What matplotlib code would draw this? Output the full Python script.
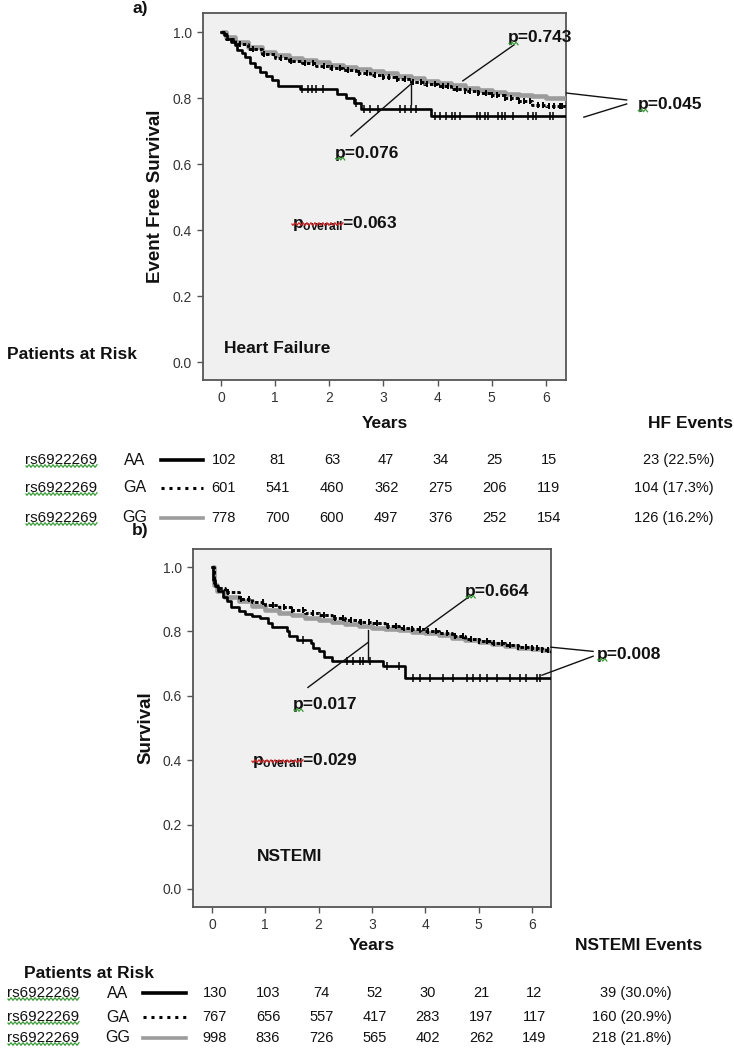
import numpy as np
import matplotlib
matplotlib.use('Agg')
import matplotlib.pyplot as plt
from matplotlib.lines import Line2D
from matplotlib import transforms

plt.rcParams['font.family'] = ['Liberation Sans', 'DejaVu Sans']
plt.rcParams['mathtext.fontset'] = 'custom'
plt.rcParams['mathtext.rm'] = 'Liberation Sans'
plt.rcParams['mathtext.bf'] = 'Liberation Sans:bold'
plt.rcParams['mathtext.it'] = 'Liberation Sans:italic'

# ---------------- data ----------------
year_ticks = [0, 1, 2, 3, 4, 5, 6]
surv_ticks = [0.0, 0.2, 0.4, 0.6, 0.8, 1.0]
snp = 'rs6922269'
genotypes = ['AA', 'GA', 'GG']

# Heart failure panel (a)
hf_aa_t = [0, 0.06, 0.12, 0.18, 0.25, 0.3, 0.38, 0.45, 0.53, 0.62, 0.72, 0.84, 0.95, 1.05, 1.45, 2.15, 2.3, 2.45, 2.58, 3.88, 6.37]
hf_aa_s = [1.0, 0.99, 0.98, 0.97, 0.96, 0.945, 0.935, 0.925, 0.905, 0.895, 0.88, 0.868, 0.855, 0.836, 0.826, 0.812, 0.80, 0.785, 0.766, 0.745, 0.745]
hf_aa_cens = [1.5, 1.6, 1.68, 1.75, 1.88, 2.5, 2.64, 2.75, 2.9, 3.3, 3.4, 3.5, 3.6, 3.95, 4.05, 4.15, 4.26, 4.32, 4.41,
              4.72, 4.78, 4.87, 4.93, 5.12, 5.18, 5.24, 5.40, 5.67, 5.76, 5.82, 6.07, 6.13]
hf_ga_t = [0, 0.1, 0.25, 0.5, 0.75, 1.0, 1.25, 1.5, 1.75, 2.0, 2.25, 2.5, 2.75, 3.0, 3.25, 3.5, 3.75, 4.0, 4.25, 4.5, 4.75, 5.0, 5.25, 5.5, 5.75, 6.0, 6.37]
hf_ga_s = [1.0, 0.98, 0.965, 0.948, 0.934, 0.922, 0.912, 0.905, 0.898, 0.89, 0.884, 0.877, 0.87, 0.864, 0.858, 0.85, 0.843, 0.835, 0.828, 0.822, 0.815, 0.808, 0.80, 0.79, 0.78, 0.775, 0.772]
hf_ga_cens = [0.35, 0.6, 0.8, 1.1, 1.3, 1.55, 1.7, 1.9, 2.05, 2.2, 2.35, 2.55, 2.7, 2.85, 3.0, 3.1, 3.25, 3.4, 3.55, 3.7,
              3.8, 3.95, 4.1, 4.2, 4.35, 4.5, 4.6, 4.75, 4.9, 5.0, 5.1, 5.25, 5.35, 5.5, 5.6, 5.7, 5.85, 5.95, 6.05, 6.15, 6.25, 6.3]
hf_gg_t = [0, 0.1, 0.25, 0.5, 0.75, 1.0, 1.25, 1.5, 1.75, 2.0, 2.25, 2.5, 2.75, 3.0, 3.25, 3.5, 3.75, 4.0, 4.25, 4.5, 4.75, 5.0, 5.25, 5.5, 5.75, 6.0, 6.37]
hf_gg_s = [1.0, 0.985, 0.97, 0.955, 0.94, 0.93, 0.922, 0.915, 0.908, 0.90, 0.894, 0.888, 0.882, 0.876, 0.868, 0.86, 0.853, 0.846, 0.838, 0.83, 0.824, 0.818, 0.813, 0.81, 0.806, 0.80, 0.795]
hf_risk = [[102, 81, 63, 47, 34, 25, 15],
           [601, 541, 460, 362, 275, 206, 119],
           [778, 700, 600, 497, 376, 252, 154]]
hf_events = ['23 (22.5%)', '104 (17.3%)', '126 (16.2%)']
hf_pvals = ['p=0.743', 'p=0.045', 'p=0.076']
hf_p_overall = '0.063'

# NSTEMI panel (b)
ns_aa_t = [0, 0.02, 0.06, 0.12, 0.2, 0.28, 0.36, 0.5, 0.62, 0.75, 0.9, 1.05, 1.12, 1.4, 1.45, 1.6, 1.85, 1.9, 2.0, 2.1, 2.25, 3.2, 3.62, 6.36]
ns_aa_s = [1.0, 0.96, 0.94, 0.925, 0.908, 0.893, 0.877, 0.862, 0.855, 0.848, 0.841, 0.826, 0.815, 0.80, 0.787, 0.774, 0.764, 0.75, 0.738, 0.72, 0.708, 0.692, 0.656, 0.656]
ns_aa_cens = [1.7, 2.53, 2.65, 2.78, 2.84, 2.96, 3.28, 3.5, 3.78, 3.9, 4.09, 4.34, 4.53, 4.78, 4.9, 5.03, 5.15, 5.34, 5.59, 5.78, 5.9, 6.09, 6.15]
ns_ga_t = [0, 0.03, 0.1, 0.25, 0.5, 0.75, 1.0, 1.25, 1.5, 1.75, 2.0, 2.25, 2.5, 2.75, 3.0, 3.25, 3.5, 3.75, 4.0, 4.25, 4.5, 4.75, 5.0, 5.25, 5.5, 5.75, 6.0, 6.2, 6.36]
ns_ga_s = [1.0, 0.95, 0.935, 0.922, 0.902, 0.892, 0.883, 0.875, 0.866, 0.857, 0.85, 0.843, 0.836, 0.83, 0.825, 0.818, 0.812, 0.807, 0.802, 0.795, 0.786, 0.778, 0.77, 0.764, 0.758, 0.752, 0.748, 0.742, 0.73]
ns_ga_cens = [0.3, 0.55, 0.7, 0.95, 1.15, 1.35, 1.5, 1.7, 1.9, 2.1, 2.3, 2.45, 2.6, 2.8, 2.95, 3.1, 3.3, 3.45, 3.6, 3.75,
              3.9, 4.05, 4.2, 4.4, 4.55, 4.7, 4.85, 5.0, 5.15, 5.3, 5.45, 5.6, 5.75, 5.9, 6.0, 6.1, 6.2, 6.3]
ns_gg_t = [0, 0.03, 0.1, 0.25, 0.5, 0.75, 1.0, 1.25, 1.5, 1.75, 2.0, 2.25, 2.5, 2.75, 3.0, 3.25, 3.5, 3.75, 4.0, 4.25, 4.5, 4.75, 5.0, 5.25, 5.5, 5.75, 6.0, 6.2, 6.36]
ns_gg_s = [1.0, 0.945, 0.925, 0.908, 0.893, 0.88, 0.868, 0.858, 0.85, 0.842, 0.835, 0.829, 0.823, 0.817, 0.812, 0.807, 0.803, 0.799, 0.795, 0.788, 0.781, 0.773, 0.766, 0.76, 0.754, 0.749, 0.745, 0.741, 0.735]
ns_risk = [[130, 103, 74, 52, 30, 21, 12],
           [767, 656, 557, 417, 283, 197, 117],
           [998, 836, 726, 565, 402, 262, 149]]
ns_events = ['39 (30.0%)', '160 (20.9%)', '218 (21.8%)']
ns_pvals = ['p=0.664', 'p=0.008', 'p=0.017']
ns_p_overall = '0.029'

# ---------------- figure ----------------
W, H = 734, 1054
fig = plt.figure(figsize=(W / 100, H / 100), dpi=100)


def fx(px):
    return px / W


def fy(py):
    return 1 - py / H


BG = '#f0f0f0'
GRAY = '#9c9c9c'
SPINE = '#555555'
TXT = '#111111'
BOLD = 12.5


def step_val(t, s, c):
    idx = np.searchsorted(np.asarray(t), np.asarray(c), side='right') - 1
    return np.asarray(s)[idx]


def make_axes(rect, xlim, ylim, ylabel):
    ax = fig.add_axes(rect)
    ax.set_facecolor(BG)
    ax.set_xlim(*xlim)
    ax.set_ylim(*ylim)
    ax.set_xticks(year_ticks)
    ax.set_yticks(surv_ticks)
    ax.set_yticklabels([f'{v:.1f}' for v in surv_ticks])
    for sp in ax.spines.values():
        sp.set_color(SPINE)
        sp.set_linewidth(1.3)
    ax.tick_params(direction='out', length=4.5, width=1, colors='#555555', labelsize=10,
                   labelcolor='#333333', pad=3.5)
    ax.set_ylabel(ylabel, fontsize=13.5, fontweight='bold', color=TXT, labelpad=6)
    return ax


def draw_curves(ax, aa, ga, gg):
    (gg_t, gg_s) = gg
    ax.step(gg_t, gg_s, where='post', color=GRAY, lw=3.3, zorder=3, solid_capstyle='butt')
    (ga_t, ga_s, ga_c) = ga
    ax.step(ga_t, ga_s, where='post', color='black', lw=2.1, ls=(0, (1.2, 0.7)), zorder=4)
    ax.plot(ga_c, step_val(ga_t, ga_s, ga_c), ls='none', marker='|', ms=5, mew=1.4, color='black', zorder=4)
    (aa_t, aa_s, aa_c) = aa
    ax.step(aa_t, aa_s, where='post', color='black', lw=1.9, zorder=5)
    ax.plot(aa_c, step_val(aa_t, aa_s, aa_c), ls='none', marker='|', ms=6, mew=1.1, color='black', zorder=5)


def ann_line(ax, xs, ys):
    ax.add_line(Line2D(xs, ys, color='#111111', lw=1.0, clip_on=False, zorder=6))


# ---- panel a ----
axa = make_axes([fx(203), fy(380), fx(566) - fx(203), fy(13) - fy(380)],
                (-0.332, 6.37), (-0.0545, 1.0576), 'Event Free Survival')
draw_curves(axa, (hf_aa_t, hf_aa_s, hf_aa_cens), (hf_ga_t, hf_ga_s, hf_ga_cens), (hf_gg_t, hf_gg_s))

ptexts = []
t = axa.text(5.30, 0.982, hf_pvals[0], fontsize=BOLD, fontweight='bold', color=TXT, va='center', ha='left')
ptexts.append(t)
ann_line(axa, [5.41, 4.465], [0.961, 0.852])
t = axa.text(7.69, 0.779, hf_pvals[1], fontsize=BOLD, fontweight='bold', color=TXT, va='center', ha='left', clip_on=False)
ptexts.append(t)
ann_line(axa, [7.49, 6.38], [0.794, 0.815])
ann_line(axa, [7.49, 6.70], [0.782, 0.742])
t = axa.text(2.10, 0.633, hf_pvals[2], fontsize=BOLD, fontweight='bold', color=TXT, va='center', ha='left')
ptexts.append(t)
ann_line(axa, [2.40, 3.505], [0.685, 0.842])
ann_line(axa, [3.505, 3.505], [0.842, 0.782])
povs = []
t = axa.text(1.31, 0.421, r'$\mathbf{p}_{\mathbf{overall}}$' + '=' + hf_p_overall, fontsize=BOLD,
             fontweight='bold', color=TXT, va='center', ha='left')
povs.append(t)
axa.text(0.055, 0.04, 'Heart Failure', fontsize=BOLD, fontweight='bold', color=TXT, va='center', ha='left')

# ---- panel b ----
axb = make_axes([fx(193), fy(907), fx(551) - fx(193), fy(549) - fy(907)],
                (-0.356, 6.36), (-0.056, 1.056), 'Survival')
draw_curves(axb, (ns_aa_t, ns_aa_s, ns_aa_cens), (ns_ga_t, ns_ga_s, ns_ga_cens), (ns_gg_t, ns_gg_s))

t = axb.text(4.75, 0.925, ns_pvals[0], fontsize=BOLD, fontweight='bold', color=TXT, va='center', ha='left')
ptexts.append(t)
ann_line(axb, [4.84, 3.90], [0.91, 0.797])
t = axb.text(7.22, 0.729, ns_pvals[1], fontsize=BOLD, fontweight='bold', color=TXT, va='center', ha='left', clip_on=False)
ptexts.append(t)
ann_line(axb, [7.15, 6.36], [0.738, 0.751])
ann_line(axb, [7.15, 6.19], [0.723, 0.664])
t = axb.text(1.52, 0.573, ns_pvals[2], fontsize=BOLD, fontweight='bold', color=TXT, va='center', ha='left')
ptexts.append(t)
ann_line(axb, [1.80, 2.93], [0.626, 0.766])
ann_line(axb, [2.93, 2.93], [0.804, 0.704])
t = axb.text(0.75, 0.40, r'$\mathbf{p}_{\mathbf{overall}}$' + '=' + ns_p_overall, fontsize=BOLD,
             fontweight='bold', color=TXT, va='center', ha='left')
povs.append(t)
axb.text(0.84, 0.10, 'NSTEMI', fontsize=BOLD, fontweight='bold', color=TXT, va='center', ha='left')

# panel letters
fig.text(fx(140), fy(9), 'a)', fontsize=BOLD, fontweight='bold', color=TXT, ha='center', va='center')
fig.text(fx(140), fy(531), 'b)', fontsize=BOLD, fontweight='bold', color=TXT, ha='center', va='center')

# ---- risk tables ----
snp_texts = []


def risk_table(ax, years_y, events_title, events_x, row_ys, snp_x, gt_x, line_x, risk, events,
               events_right, par_x, par_y):
    cx = (ax.get_position().x0 + ax.get_position().x1) / 2
    fig.text(cx, fy(years_y), 'Years', fontsize=BOLD, fontweight='bold', color=TXT, ha='center', va='center')
    fig.text(fx(events_x), fy(years_y), events_title, fontsize=BOLD, fontweight='bold', color=TXT,
             ha='center', va='center')
    fig.text(fx(par_x), fy(par_y), 'Patients at Risk', fontsize=BOLD, fontweight='bold', color=TXT,
             ha='left', va='center')
    tr = transforms.blended_transform_factory(ax.transData, fig.transFigure)
    styles = [dict(color='black', lw=2.6, ls='-'),
              dict(color='black', lw=2.2, ls=(0, (1.0, 1.6))),
              dict(color=GRAY, lw=2.6, ls='-')]
    for i, ry in enumerate(row_ys):
        st = fig.text(fx(snp_x), fy(ry), snp, fontsize=11, color=TXT, ha='left', va='center')
        snp_texts.append(st)
        fig.text(fx(gt_x), fy(ry), genotypes[i], fontsize=11.5, color=TXT, ha='center', va='center')
        fig.add_artist(Line2D([fx(line_x[0]), fx(line_x[1])], [fy(ry), fy(ry)], **styles[i]))
        for yr, n in zip(year_ticks, risk[i]):
            fig.text(yr + 0.05, fy(ry), str(n), fontsize=10.5, color=TXT, ha='center', va='center', transform=tr)
        fig.text(fx(events_right), fy(ry), events[i], fontsize=10.5, color=TXT, ha='right', va='center')


risk_table(axa, 423, 'HF Events', 690, [460, 488, 518], 25, 135, (161, 203), hf_risk, hf_events, 714, 7, 354)
risk_table(axb, 946, 'NSTEMI Events', 639, [993, 1017, 1038], 7, 118, (143, 186), ns_risk, ns_events, 672, 24, 973)

# ---- spell-check squiggles (decoration) ----
fig.canvas.draw()
rend = fig.canvas.get_renderer()


def squiggle(x0, x1, ybase, color):
    xs = np.arange(x0, x1 + 0.1, 1.0)
    ys = ybase - 1.3 * np.sin((xs - x0) * np.pi / 2.0)
    fig.add_artist(Line2D(xs / W, ys / H, color=color, lw=0.9))


for t in snp_texts:
    bb = t.get_window_extent(rend)
    squiggle(bb.x0 + 1, bb.x1, bb.y0 + 1, '#3a9a3a')
for t in ptexts:
    bb = t.get_window_extent(rend)
    squiggle(bb.x0 + 1, bb.x0 + bb.width * 0.16, bb.y0 + 2, '#3a9a3a')
for t in povs:
    bb = t.get_window_extent(rend)
    squiggle(bb.x0, bb.x0 + bb.width * 0.49, bb.y0 + bb.height * 0.45, '#cc2222')

fig.savefig('out.png', dpi=100, facecolor='white')
